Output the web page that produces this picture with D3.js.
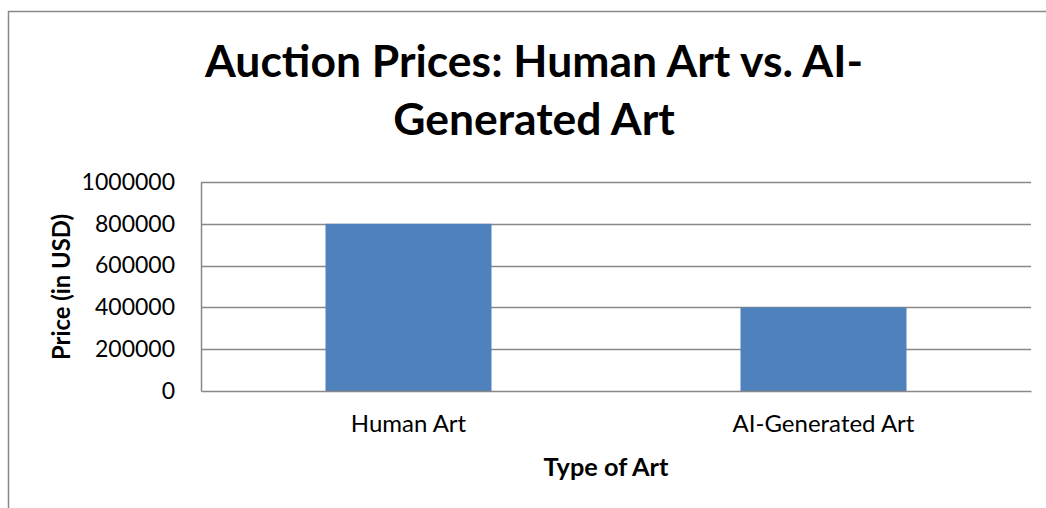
<!DOCTYPE html>
<html>
<head>
<meta charset="utf-8">
<script src="https://cdn.jsdelivr.net/npm/d3@7"></script>
<style>
  body { margin: 0; background: #fff; }
  svg { display: block; font-family: Lato, "Open Sans", sans-serif; }
</style>
</head>
<body>
<svg id="chart" width="1046" height="508"></svg>
<script>
// chart data
var categories = ["Human Art", "AI-Generated Art"];
var prices = [800000, 400000];
var yTicks = [0, 200000, 400000, 600000, 800000, 1000000];
var titleLines = ["Auction Prices: Human Art vs. AI-", "Generated Art"];
var xTitle = "Type of Art";
var yTitle = "Price (in USD)";

var svg = d3.select("#chart");

// plot area, margin convention
var margin = {top: 182, right: 15, bottom: 117, left: 201};
var width = 1046 - margin.left - margin.right,
    height = 508 - margin.top - margin.bottom;

// outer chart frame (runs off the right and bottom edge)
svg.append("rect")
    .attr("x", 8.5).attr("y", 11.5)
    .attr("width", 1100).attr("height", 600)
    .attr("fill", "none")
    .attr("stroke", "#888")
    .attr("stroke-width", 1.5);

// scale the font so the text is as wide as in the picture
function fitWidth(sel, target) {
  var node = sel.node(), size = parseFloat(sel.attr("font-size"));
  var w = node.getComputedTextLength();
  if (w > 0) sel.attr("font-size", (size * target / w).toFixed(2));
}

// title
var title = svg.append("g").attr("font-weight", "bold").attr("text-anchor", "middle").attr("fill", "#000");
var t1 = title.append("text").attr("x", 534).attr("y", 77).attr("font-size", 44).text(titleLines[0]);
fitWidth(t1, 658);
title.append("text").attr("x", 534).attr("y", 135).attr("font-size", t1.attr("font-size")).text(titleLines[1]);

var g = svg.append("g")
    .attr("transform", "translate(" + margin.left + "," + margin.top + ")");

var x = d3.scaleBand()
    .domain(categories)
    .range([0, width])
    .paddingInner(0.6)
    .paddingOuter(0.3);

var y = d3.scaleLinear()
    .domain([0, 1000000])
    .range([height, 0]);

// gridlines
g.append("g")
    .selectAll("line")
    .data(yTicks.slice(1))
    .join("line")
      .attr("x1", 0).attr("x2", width)
      .attr("y1", function(d) { return Math.round(y(d)) + 0.5; })
      .attr("y2", function(d) { return Math.round(y(d)) + 0.5; })
      .attr("stroke", "#888")
      .attr("stroke-width", 1.5);

// bars
g.append("g")
    .selectAll("rect")
    .data(prices)
    .join("rect")
      .attr("x", function(d, i) { return x(categories[i]); })
      .attr("y", function(d) { return y(d); })
      .attr("width", x.bandwidth())
      .attr("height", function(d) { return height - y(d); })
      .attr("fill", "#4F81BD");

// y axis
var yAxis = g.append("g")
    .call(d3.axisLeft(y).tickValues(yTicks).tickSize(0).tickPadding(26).tickFormat(d3.format("d")));
yAxis.select(".domain").attr("stroke", "#888").attr("stroke-width", 1.5);
yAxis.selectAll("text").attr("font-size", 23).attr("font-family", "Lato, sans-serif").attr("fill", "#000");

// x axis
var xAxis = g.append("g")
    .attr("transform", "translate(0," + height + ")")
    .call(d3.axisBottom(x).tickSize(0).tickPadding(24));
xAxis.select(".domain").attr("stroke", "#888").attr("stroke-width", 1.5);
xAxis.selectAll("text").attr("font-size", 24).attr("font-family", "Lato, sans-serif").attr("fill", "#000");

// axis titles
var xt = svg.append("text")
    .attr("x", 606).attr("y", 476)
    .attr("text-anchor", "middle")
    .attr("font-weight", "bold")
    .attr("font-size", 20)
    .text(xTitle);
fitWidth(xt, 125);

var yt = svg.append("text")
    .attr("transform", "translate(70,287) rotate(-90)")
    .attr("text-anchor", "middle")
    .attr("font-weight", "bold")
    .attr("font-size", 20)
    .text(yTitle);
fitWidth(yt, 146);
</script>
</body>
</html>
